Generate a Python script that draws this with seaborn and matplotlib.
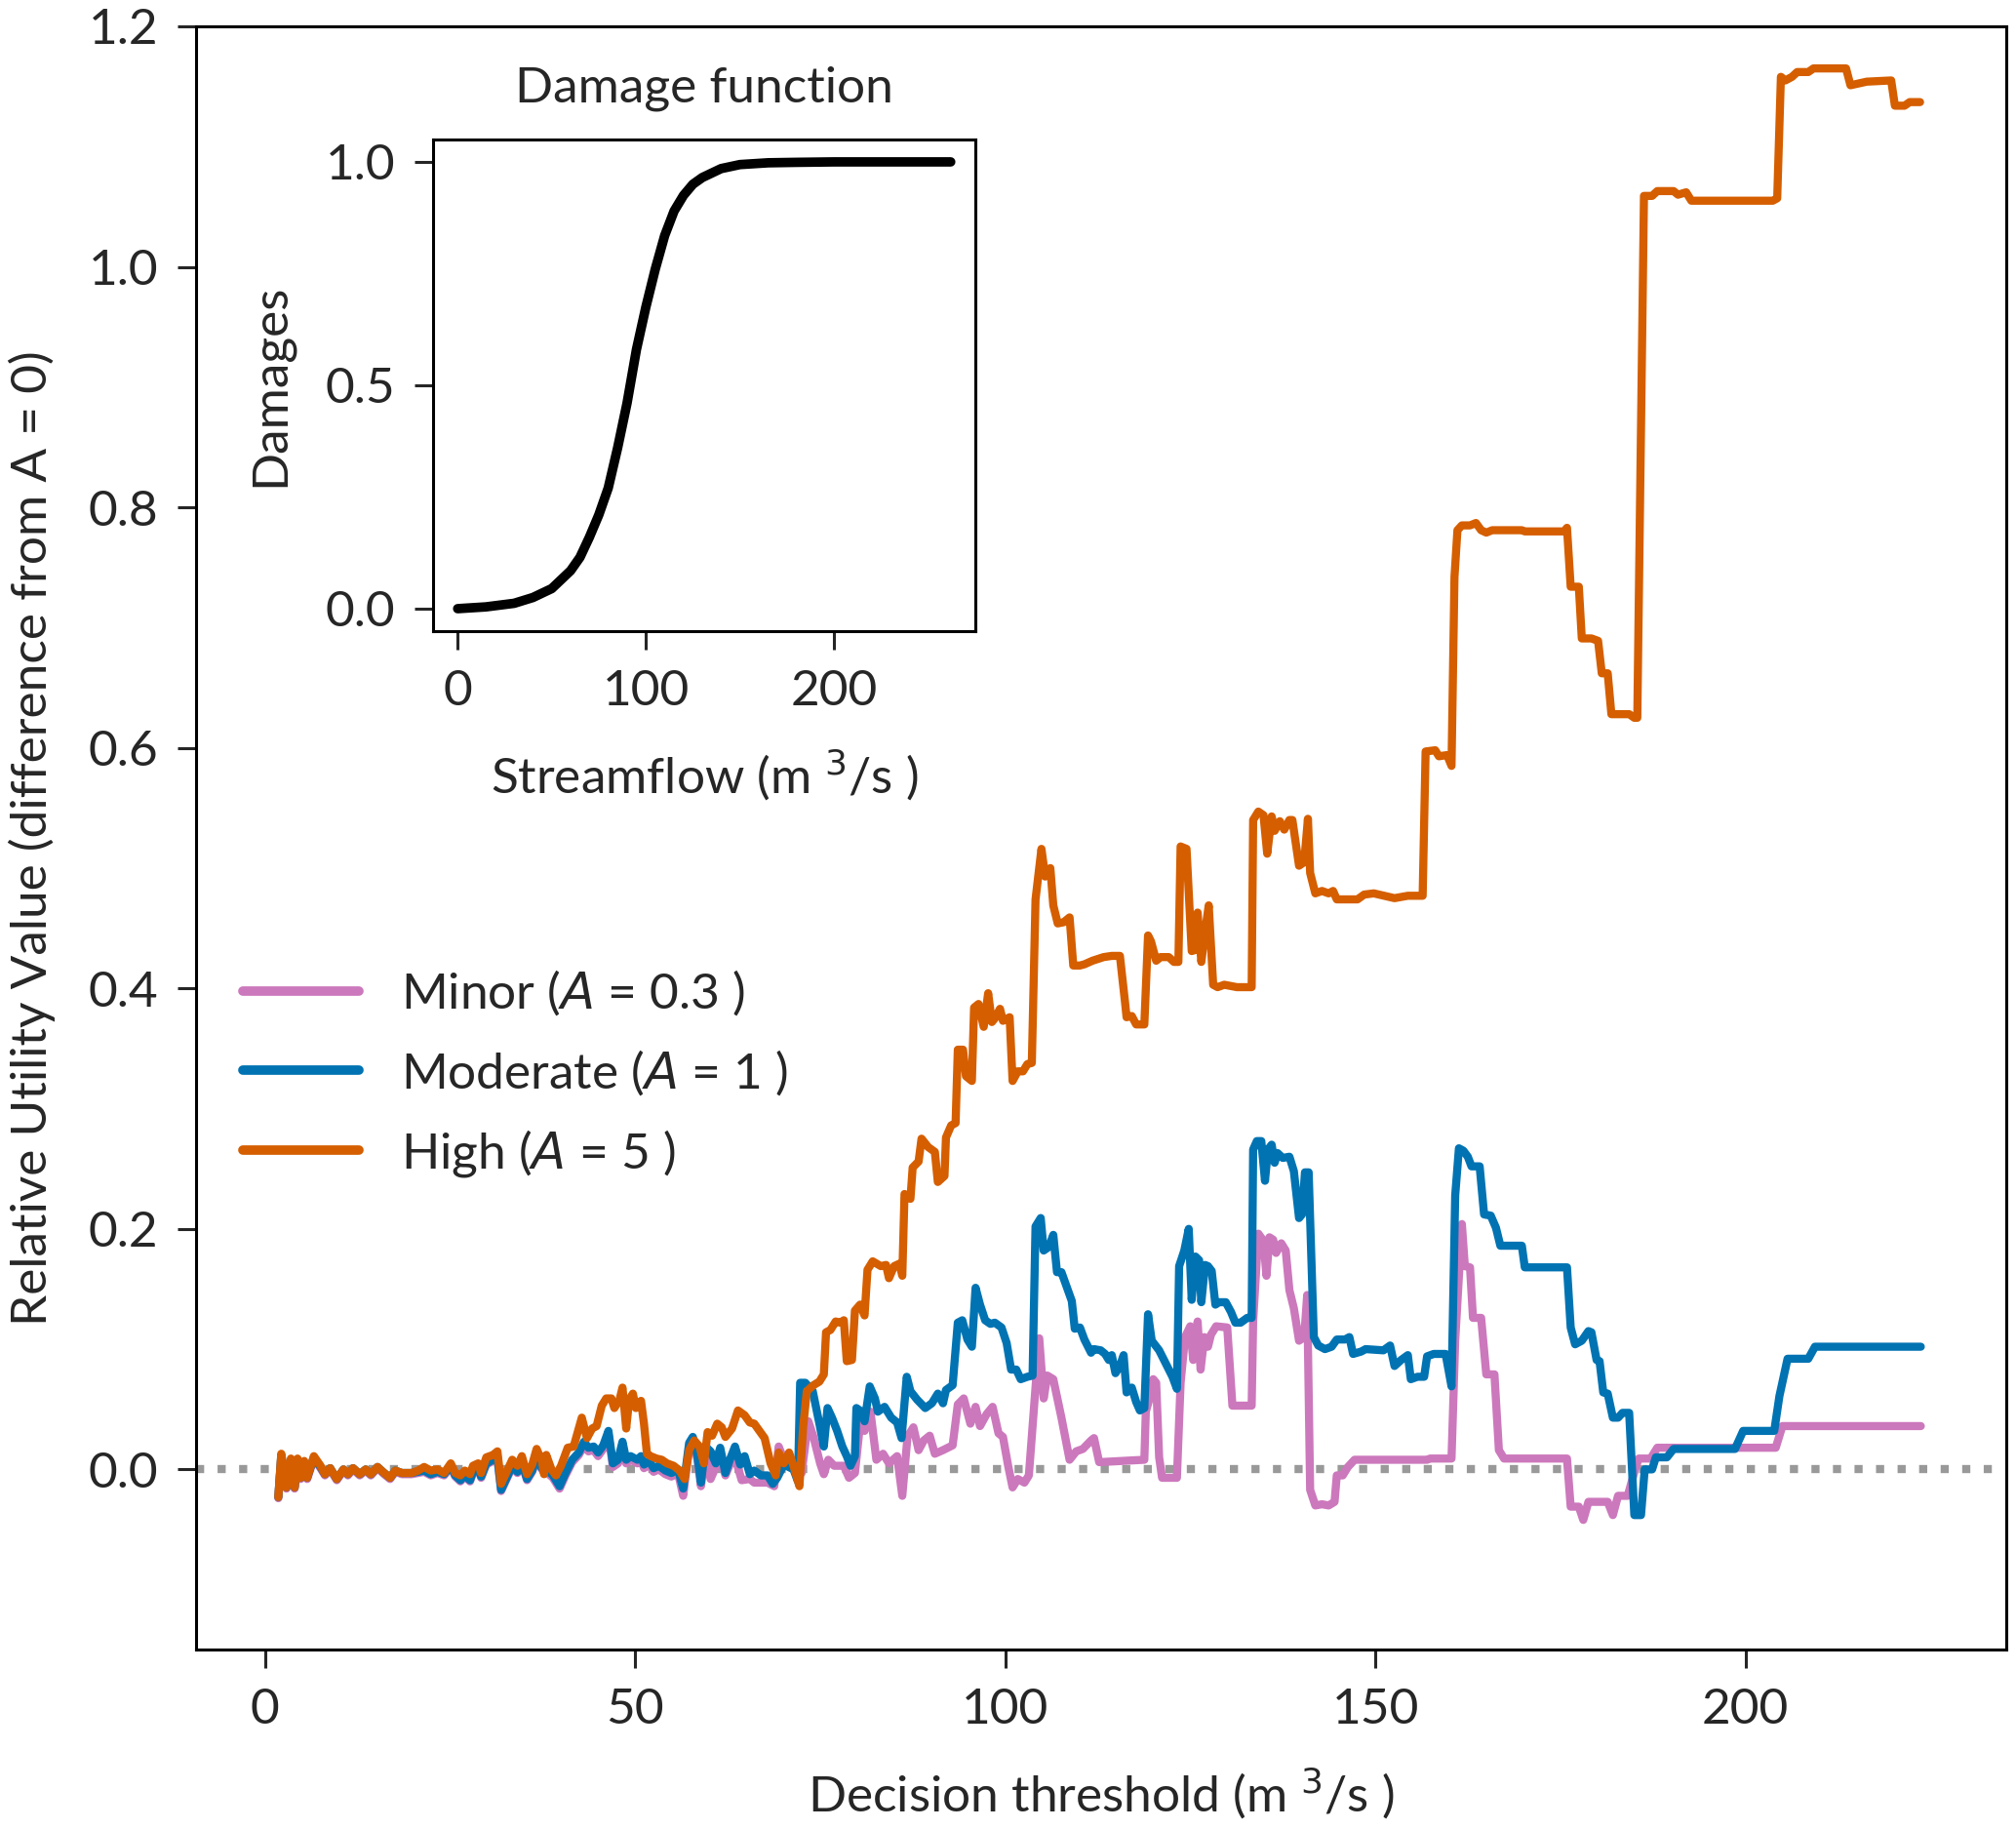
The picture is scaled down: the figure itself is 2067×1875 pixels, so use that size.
import matplotlib
matplotlib.use("Agg")
import matplotlib.pyplot as plt
import seaborn as sns
import numpy as np

# High (A = 5)
x_high = [1.8, 2.2, 2.9, 3.5, 4.0, 4.4, 4.8, 5.3, 5.7, 6.6, 7.5, 8.1, 8.8, 9.7, 10.6, 11.2, 11.9, 12.8,
          13.6, 14.3, 15.2, 16.1, 16.9, 17.6, 18.5, 19.8, 20.7, 21.5, 22.4, 23.3, 24.2, 25.1, 25.7, 26.4,
          27.0, 27.7, 28.1, 28.8, 29.2, 29.9, 30.8, 31.4, 31.9, 32.5, 33.4, 34.1, 34.7, 35.4, 36.1, 36.7,
          37.4, 37.7, 38.0, 38.7, 39.3, 40.0, 40.9, 41.7, 42.8, 43.5, 44.2, 44.8, 45.5, 46.1, 46.8, 47.2,
          47.9, 48.3, 48.8, 49.2, 49.7, 50.1, 50.8, 51.2, 51.6, 52.1, 52.9, 53.6, 54.3, 55.2, 56.0, 56.7,
          57.3, 58.0, 58.7, 59.3, 59.8, 60.4, 61.1, 61.7, 62.2, 63.1, 63.9, 64.8, 65.5, 66.1, 66.8, 67.5,
          68.3, 69.0, 69.4, 70.1, 70.8, 71.4, 72.2, 72.7, 73.2, 74.1, 74.9, 75.5, 75.8, 76.4, 77.1, 77.7,
          78.2, 78.6, 79.3, 79.7, 80.4, 81.0, 81.4, 82.1, 83.2, 83.9, 84.3, 85.0, 85.7, 86.1, 86.4, 87.2,
          87.5, 88.3, 88.7, 89.6, 90.5, 90.9, 91.8, 92.0, 92.7, 93.3, 93.6, 94.3, 94.7, 95.5, 95.8, 96.4,
          97.1, 97.7, 98.2, 98.6, 99.3, 99.7, 100.6, 101.0, 101.7, 102.4, 103.0, 103.6, 104.1, 104.9,
          105.4, 106.1, 106.5, 107.1, 107.9, 108.7, 109.2, 110.1, 110.7, 111.8, 113.3, 114.4, 115.5,
          116.2, 116.4, 117.1, 117.7, 118.8, 119.3, 119.7, 120.4, 121.0, 122.1, 122.8, 123.4, 123.7,
          124.5, 125.2, 125.7, 126.0, 126.5, 127.0, 127.5, 128.1, 128.7, 129.6, 131.3, 133.3, 133.5,
          134.2, 134.9, 135.4, 136.0, 136.4, 137.1, 137.7, 138.4, 138.8, 139.7, 140.4, 140.9, 141.2,
          141.9, 142.8, 143.7, 144.3, 144.8, 147.6, 148.5, 149.8, 152.6, 154.4, 156.4, 156.8, 158.1,
          158.6, 159.7, 160.3, 160.7, 161.1, 161.7, 162.8, 163.6, 164.3, 165.0, 165.8, 169.8, 170.2,
          175.5, 175.9, 176.4, 177.5, 177.9, 179.2, 180.1, 180.6, 181.4, 181.9, 183.4, 184.3, 185.0,
          185.4, 186.3, 187.4, 188.1, 190.3, 190.9, 192.0, 192.7, 203.7, 204.3, 204.8, 205.4, 206.3,
          207.0, 208.5, 209.2, 213.6, 214.2, 216.4, 219.7, 220.2, 221.5, 222.2, 223.6]
y_high = [-0.023, 0.013, -0.015, 0.009, -0.015, 0.009, -0.007, 0.007, -0.007, 0.011, 0.003, -0.004,
          0.001, -0.008, 0.0, -0.004, 0.001, -0.004, 0.0, -0.004, 0.002, -0.003, -0.007, -0.001, -0.003,
          -0.003, -0.001, 0.002, -0.001, 0.0, -0.003, 0.005, -0.003, -0.005, -0.001, -0.004, 0.003,
          0.005, -0.003, 0.010, 0.012, 0.015, -0.012, -0.004, 0.008, 0.003, 0.011, -0.004, 0.004, 0.017,
          0.007, -0.004, 0.012, 0.0, -0.005, 0.003, 0.018, 0.019, 0.043, 0.026, 0.034, 0.036, 0.053,
          0.059, 0.059, 0.051, 0.058, 0.068, 0.034, 0.058, 0.063, 0.051, 0.057, 0.038, 0.013, 0.011,
          0.009, 0.008, 0.005, 0.003, -0.001, -0.008, 0.016, 0.024, 0.019, 0.005, 0.031, 0.028, 0.038,
          0.035, 0.027, 0.034, 0.049, 0.045, 0.039, 0.038, 0.032, 0.026, 0.005, -0.005, 0.014, 0.005,
          0.014, 0.003, -0.014, 0.035, 0.065, 0.070, 0.073, 0.079, 0.114, 0.116, 0.123, 0.122, 0.124,
          0.090, 0.091, 0.132, 0.137, 0.128, 0.166, 0.173, 0.169, 0.170, 0.159, 0.169, 0.171, 0.161,
          0.229, 0.225, 0.251, 0.256, 0.275, 0.268, 0.264, 0.239, 0.244, 0.276, 0.286, 0.288, 0.349,
          0.349, 0.327, 0.323, 0.384, 0.387, 0.368, 0.396, 0.372, 0.375, 0.383, 0.373, 0.376, 0.323,
          0.331, 0.331, 0.337, 0.338, 0.474, 0.516, 0.493, 0.500, 0.469, 0.454, 0.455, 0.459, 0.419,
          0.419, 0.420, 0.423, 0.426, 0.427, 0.427, 0.388, 0.376, 0.377, 0.370, 0.370, 0.444, 0.439,
          0.423, 0.426, 0.426, 0.422, 0.422, 0.518, 0.516, 0.431, 0.432, 0.463, 0.422, 0.447, 0.469,
          0.403, 0.401, 0.403, 0.401, 0.401, 0.540, 0.547, 0.544, 0.512, 0.543, 0.531, 0.539, 0.532,
          0.540, 0.540, 0.502, 0.505, 0.541, 0.496, 0.479, 0.481, 0.479, 0.481, 0.474, 0.474, 0.478,
          0.479, 0.475, 0.477, 0.477, 0.597, 0.598, 0.593, 0.594, 0.585, 0.742, 0.781, 0.785, 0.785,
          0.787, 0.781, 0.779, 0.781, 0.781, 0.780, 0.780, 0.783, 0.734, 0.734, 0.691, 0.691, 0.689,
          0.662, 0.662, 0.628, 0.628, 0.628, 0.625, 0.625, 1.059, 1.059, 1.063, 1.063, 1.060, 1.062,
          1.055, 1.055, 1.057, 1.158, 1.155, 1.158, 1.162, 1.162, 1.165, 1.165, 1.151, 1.154, 1.155,
          1.134, 1.134, 1.137, 1.137]

# Moderate (A = 1)
x_mod = [1.8, 2.2, 2.9, 3.5, 4.0, 4.4, 4.8, 5.3, 5.7, 6.6, 7.5, 8.1, 8.8, 9.7, 10.6, 11.2, 11.9, 12.8,
         13.6, 14.3, 15.2, 16.1, 16.9, 17.6, 18.5, 19.8, 20.7, 21.5, 22.4, 23.3, 24.2, 25.1, 25.7, 26.4,
         27.0, 27.7, 28.1, 28.8, 29.2, 29.9, 30.8, 31.4, 31.9, 32.5, 33.4, 34.1, 34.7, 35.4, 36.1, 36.7,
         37.4, 38.0, 38.9, 39.8, 40.6, 41.5, 42.4, 43.1, 43.7, 44.4, 45.0, 45.7, 46.4, 47.0, 47.7, 48.3,
         48.8, 49.4, 50.3, 50.8, 51.2, 51.9, 52.5, 53.2, 54.1, 54.9, 55.8, 56.5, 57.3, 57.8, 58.4, 58.9,
         59.5, 60.2, 60.9, 61.5, 62.2, 62.8, 63.5, 64.2, 64.8, 65.5, 66.1, 67.0, 67.9, 68.6, 69.2, 70.1,
         71.4, 72.0, 72.3, 73.0, 74.0, 74.9, 75.5, 76.0, 76.6, 77.3, 78.0, 78.6, 79.1, 79.7, 79.9, 80.6,
         81.0, 81.7, 82.4, 82.8, 83.7, 84.6, 85.4, 86.0, 86.7, 87.2, 88.1, 89.2, 90.1, 90.9, 91.6, 92.0,
         92.9, 93.6, 94.2, 94.9, 95.5, 96.0, 96.6, 97.3, 98.0, 98.6, 99.5, 100.2, 100.8, 101.5, 102.1,
         103.0, 103.7, 104.1, 104.8, 105.2, 105.9, 106.5, 107.0, 107.6, 108.3, 109.0, 109.4, 110.1,
         110.7, 111.6, 112.0, 112.9, 113.5, 114.0, 114.4, 114.9, 115.5, 116.0, 116.4, 117.1, 117.7,
         118.2, 118.8, 119.3, 119.8, 120.8, 121.7, 122.6, 123.2, 123.5, 124.2, 124.8, 125.2, 125.7,
         126.2, 126.5, 127.0, 127.4, 127.9, 128.4, 128.9, 129.8, 130.5, 131.1, 131.8, 132.7, 133.3,
         133.5, 134.0, 134.6, 135.1, 135.5, 136.0, 136.4, 136.8, 137.5, 138.4, 139.0, 139.7, 140.1,
         140.5, 141.0, 141.7, 142.3, 143.2, 144.1, 144.8, 145.9, 146.5, 147.0, 148.1, 148.7, 151.1,
         152.0, 152.6, 153.5, 154.4, 154.8, 155.7, 156.6, 157.0, 157.9, 159.5, 160.3, 160.8, 161.3,
         161.9, 162.5, 163.0, 164.1, 164.7, 165.6, 166.3, 166.9, 169.8, 170.2, 175.9, 176.4, 177.0,
         177.9, 178.8, 179.2, 179.9, 180.3, 180.8, 181.4, 182.1, 182.8, 183.4, 184.3, 185.0, 185.9,
         186.4, 187.4, 187.9, 189.4, 190.3, 198.6, 199.7, 203.9, 204.6, 205.7, 208.5, 209.4, 223.7]
y_mod = [-0.023, 0.012, -0.015, 0.008, -0.015, 0.008, -0.007, 0.006, -0.007, 0.010, 0.002, -0.004,
         0.001, -0.008, 0.0, -0.004, 0.001, -0.004, 0.0, -0.004, 0.002, -0.003, -0.007, -0.001, -0.003,
         -0.003, -0.002, -0.001, -0.004, -0.002, -0.004, 0.003, -0.005, -0.009, -0.005, -0.009, -0.002,
         0.001, -0.006, 0.005, 0.008, 0.010, -0.017, -0.009, 0.003, -0.002, 0.006, -0.008, -0.001, 0.010,
         0.001, 0.0, -0.005, -0.014, -0.003, 0.008, 0.014, 0.023, 0.018, 0.019, 0.014, 0.020, 0.032,
         0.005, 0.008, 0.023, 0.008, 0.011, 0.008, 0.011, 0.004, 0.007, 0.001, 0.003, -0.001, -0.003,
         0.0, -0.016, 0.022, 0.027, 0.012, -0.011, 0.019, 0.015, 0.005, 0.018, -0.003, 0.008, 0.019,
         0.004, 0.011, -0.004, -0.001, -0.005, -0.005, -0.012, -0.007, 0.004, 0.0, -0.010, 0.072,
         0.072, 0.065, 0.038, 0.019, 0.051, 0.043, 0.032, 0.019, 0.011, 0.003, 0.011, 0.051, 0.048,
         0.040, 0.069, 0.059, 0.048, 0.052, 0.043, 0.039, 0.026, 0.077, 0.065, 0.058, 0.051, 0.055,
         0.063, 0.055, 0.066, 0.070, 0.122, 0.124, 0.108, 0.102, 0.151, 0.137, 0.124, 0.121, 0.122,
         0.118, 0.105, 0.083, 0.083, 0.075, 0.077, 0.078, 0.202, 0.209, 0.182, 0.185, 0.195, 0.164,
         0.164, 0.152, 0.140, 0.117, 0.118, 0.108, 0.097, 0.100, 0.099, 0.096, 0.091, 0.095, 0.080,
         0.086, 0.095, 0.064, 0.068, 0.056, 0.049, 0.051, 0.129, 0.107, 0.099, 0.088, 0.077, 0.067,
         0.169, 0.182, 0.200, 0.141, 0.177, 0.174, 0.139, 0.170, 0.169, 0.165, 0.137, 0.139, 0.139,
         0.131, 0.122, 0.122, 0.126, 0.126, 0.266, 0.273, 0.273, 0.240, 0.266, 0.270, 0.255, 0.263,
         0.259, 0.260, 0.248, 0.209, 0.212, 0.247, 0.247, 0.110, 0.103, 0.100, 0.102, 0.108, 0.108,
         0.110, 0.096, 0.098, 0.100, 0.099, 0.103, 0.086, 0.091, 0.095, 0.075, 0.077, 0.077, 0.094,
         0.096, 0.096, 0.069, 0.228, 0.267, 0.265, 0.260, 0.252, 0.252, 0.212, 0.211, 0.201, 0.186,
         0.186, 0.168, 0.168, 0.118, 0.104, 0.107, 0.115, 0.114, 0.091, 0.090, 0.064, 0.063, 0.043,
         0.043, 0.047, 0.047, -0.038, -0.038, 0.0, 0.0, 0.010, 0.010, 0.017, 0.017, 0.032, 0.032,
         0.061, 0.092, 0.092, 0.102, 0.102]

# Minor (A = 0.3)
x_minor = [1.8, 2.2, 2.9, 3.5, 4.0, 4.4, 4.8, 5.3, 5.7, 6.6, 7.5, 8.1, 8.8, 9.7, 10.6, 11.2, 11.9, 12.8,
           13.6, 14.3, 15.2, 16.1, 16.9, 17.6, 18.5, 19.8, 20.7, 21.5, 22.4, 23.3, 24.2, 25.1, 25.7, 26.4,
           27.0, 27.7, 28.1, 28.8, 29.2, 29.9, 30.8, 31.4, 31.9, 32.5, 33.4, 34.1, 34.7, 35.4, 36.1,
           36.7, 37.4, 38.0, 38.9, 39.8, 40.6, 41.5, 42.4, 43.1, 43.7, 44.4, 45.0, 45.7, 46.4, 47.0,
           47.7, 48.3, 48.8, 49.4, 50.3, 50.8, 51.2, 51.9, 52.5, 53.2, 54.1, 54.9, 55.8, 56.5, 57.3,
           57.8, 58.4, 58.9, 59.5, 60.2, 60.9, 61.5, 62.2, 62.8, 63.5, 64.4, 65.5, 66.1, 67.9, 68.8,
           69.4, 70.1, 71.4, 72.5, 73.4, 74.1, 75.0, 75.5, 76.1, 76.9, 78.2, 78.9, 79.7, 80.4, 81.0,
           81.8, 82.6, 83.5, 84.3, 85.4, 86.1, 86.8, 87.6, 88.3, 89.0, 89.8, 90.5, 91.6, 92.9, 93.6,
           94.4, 95.3, 96.0, 96.6, 97.5, 98.3, 99.1, 99.7, 100.4, 101.0, 101.7, 102.6, 103.2, 104.6,
           105.2, 105.7, 106.5, 107.6, 108.7, 109.6, 110.5, 111.6, 112.0, 112.7, 118.8, 119.0, 119.6,
           120.0, 120.4, 120.8, 121.2, 123.2, 123.7, 124.3, 125.0, 125.4, 126.0, 126.4, 126.9, 127.4,
           127.8, 128.5, 130.0, 130.7, 133.3, 133.5, 134.2, 134.9, 135.3, 135.7, 136.2, 136.6, 137.3,
           137.9, 138.4, 139.0, 139.7, 140.4, 140.8, 141.2, 141.9, 142.8, 143.7, 144.5, 144.8, 145.6,
           146.3, 147.2, 157.0, 157.4, 160.3, 160.8, 161.7, 162.1, 162.8, 163.2, 164.3, 165.0, 166.1,
           166.7, 167.4, 175.9, 176.4, 177.5, 178.1, 178.8, 181.4, 182.1, 182.8, 184.1, 185.2, 185.6,
           187.2, 188.1, 204.1, 205.0, 223.7]
y_minor = [-0.024, 0.011, -0.016, 0.007, -0.016, 0.007, -0.008, 0.005, -0.008, 0.009, 0.001, -0.005,
           0.0, -0.009, -0.001, -0.005, 0.0, -0.005, -0.001, -0.005, 0.001, -0.004, -0.008, -0.002,
           -0.004, -0.004, -0.003, -0.002, -0.005, -0.003, -0.005, 0.002, -0.006, -0.010, -0.006,
           -0.010, -0.003, 0.0, -0.007, 0.004, 0.007, 0.009, -0.018, -0.010, 0.002, -0.003, 0.005,
           -0.009, -0.002, 0.009, 0.0, -0.002, -0.007, -0.016, -0.005, 0.006, 0.012, 0.020, 0.015,
           0.016, 0.011, 0.017, 0.029, 0.002, 0.005, 0.020, 0.005, 0.008, 0.005, 0.008, 0.001, 0.004,
           -0.002, 0.0, -0.004, -0.006, -0.003, -0.022, 0.019, 0.024, 0.009, -0.014, 0.016, -0.008,
           0.002, 0.012, -0.005, 0.004, 0.010, -0.009, -0.008, -0.011, -0.011, -0.014, 0.019, 0.008,
           0.003, -0.003, 0.040, 0.027, 0.005, -0.004, 0.008, 0.003, 0.003, -0.007, -0.003, 0.038,
           0.032, 0.048, 0.008, 0.013, 0.005, 0.011, -0.022, 0.027, 0.035, 0.016, 0.024, 0.028, 0.013,
           0.016, 0.020, 0.054, 0.059, 0.038, 0.052, 0.036, 0.046, 0.052, 0.030, 0.027, 0.003, -0.015,
           -0.008, -0.011, -0.005, 0.109, 0.059, 0.078, 0.075, 0.043, 0.008, 0.015, 0.017, 0.024,
           0.026, 0.006, 0.008, 0.048, 0.061, 0.075, 0.072, 0.010, -0.007, -0.007, 0.072, 0.110, 0.119,
           0.091, 0.123, 0.083, 0.110, 0.102, 0.112, 0.119, 0.118, 0.053, 0.053, 0.123, 0.196, 0.190,
           0.161, 0.193, 0.191, 0.180, 0.188, 0.182, 0.149, 0.134, 0.107, 0.110, 0.145, -0.017, -0.030,
           -0.029, -0.030, -0.027, -0.005, -0.005, 0.002, 0.008, 0.008, 0.009, 0.009, 0.107, 0.204,
           0.169, 0.168, 0.126, 0.126, 0.079, 0.079, 0.016, 0.009, 0.009, -0.031, -0.031, -0.042,
           -0.027, -0.027, -0.038, -0.022, -0.022, 0.002, 0.009, 0.009, 0.018, 0.018, 0.036, 0.036]

# inset: damage function
x_dmg = [0, 15, 30, 40, 50, 60, 65, 70, 75, 80, 85, 90, 95, 100, 105, 110, 115, 120, 125, 130, 140,
         150, 165, 180, 200, 230, 262]
y_dmg = [0.0, 0.004, 0.012, 0.025, 0.045, 0.085, 0.115, 0.16, 0.21, 0.27, 0.36, 0.46, 0.58, 0.675,
         0.76, 0.835, 0.89, 0.925, 0.95, 0.965, 0.985, 0.994, 0.998, 0.999, 1.0, 1.0, 1.0]

labels = ["Minor ($\\it{A}$ = 0.3 )", "Moderate ($\\it{A}$ = 1 )", "High ($\\it{A}$ = 5 )"]

sns.set_style("ticks")
plt.rcParams["font.family"] = ["Lato", "DejaVu Sans"]
plt.rcParams["axes.linewidth"] = 1.1
fs = 18.5
pal = sns.color_palette("colorblind")
c_minor, c_mod, c_high = pal[4], pal[0], pal[3]

fig = plt.figure(figsize=(10.335, 9.375), dpi=200)
ax = fig.add_axes([0.0973, 0.098, 0.8977, 0.8876])

ax.axhline(0, color="0.6", linestyle=":", lw=3, zorder=1)
sns.lineplot(x=x_minor, y=y_minor, ax=ax, color=c_minor, lw=3, label=labels[0], estimator=None)
sns.lineplot(x=x_mod, y=y_mod, ax=ax, color=c_mod, lw=3, label=labels[1], estimator=None)
sns.lineplot(x=x_high, y=y_high, ax=ax, color=c_high, lw=3, label=labels[2], estimator=None)

ax.set_ylim(-0.15, 1.2)
ax.set_xlim(-9.3, 235.2)
ax.set_xlabel("Decision threshold (m $^{3}$/s )", fontsize=fs, labelpad=12)
ax.set_ylabel("Relative Utility Value (difference from A = 0)", fontsize=fs, labelpad=12)
ax.tick_params(labelsize=fs, length=7, width=1.1, pad=7)
for s in ax.spines.values():
    s.set_visible(True)
    s.set_color("black")

leg = ax.legend(loc="center left", bbox_to_anchor=(0.026, 0.355), frameon=False, fontsize=fs,
                handlelength=2.3, handletextpad=0.85, labelspacing=0.6, borderpad=0, borderaxespad=0)
for h in leg.get_lines():
    h.set_linewidth(3.5)

# inset
ins = fig.add_axes([0.2148, 0.655, 0.2690, 0.2687])
sns.lineplot(x=x_dmg, y=y_dmg, ax=ins, color="black", lw=3.5, estimator=None)
ins.set_xticks([0, 100, 200])
ins.set_yticks([0.0, 0.5, 1.0])
ins.set_title("Damage function", fontsize=fs, pad=14)
ins.set_xlabel("Streamflow (m $^{3}$/s )", fontsize=fs, labelpad=12)
ins.set_ylabel("Damages", fontsize=fs, labelpad=12)
ins.tick_params(labelsize=fs, length=7, width=1.1, pad=7)
for s in ins.spines.values():
    s.set_visible(True)
    s.set_color("black")

fig.savefig("out.png", dpi=200)
